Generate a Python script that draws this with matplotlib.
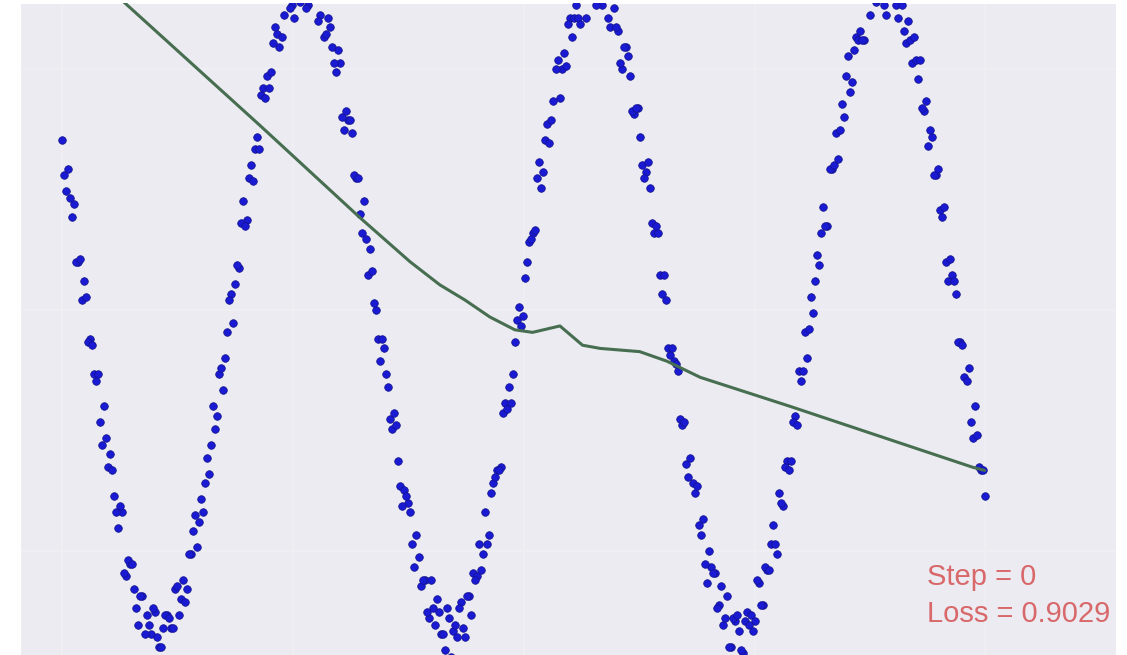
import matplotlib
matplotlib.use("Agg")
import matplotlib.pyplot as plt
import seaborn as sns

# noisy samples, x read in phase-degrees, y in signal units (two interleaved runs)
x_a = [150, 155, 160, 165, 170, 175, 180, 185, 190, 195, 200, 205, 210, 215, 220, 225, 230, 235, 240, 245,
       250, 255, 260, 265, 270, 275, 280, 285, 290, 295, 300, 305, 310, 315, 320, 325, 330, 335, 340, 345,
       350, 355, 360, 365, 370, 375, 380, 385, 390, 395, 400, 405, 410, 415, 420, 425, 430, 435, 440, 445,
       450, 455, 460, 465, 470, 475, 480, 485, 490, 495, 500, 505, 510, 515, 520, 525, 530, 535, 540, 545,
       550, 555, 560, 565, 570, 575, 580, 585, 590, 595, 600, 605, 610, 615, 620, 625, 630, 635, 640, 645,
       650, 655, 660, 665, 670, 675, 680, 685, 690, 695, 700, 705, 710, 715, 720, 725, 730, 735, 740, 745,
       750, 755, 760, 765, 770, 775, 780, 785, 790, 795, 800, 805, 810, 815, 820, 825, 830, 835, 840, 845,
       850, 855, 860, 865, 870, 875, 880, 885, 890, 895, 900, 905, 910, 915, 920, 925, 930, 935, 940, 945,
       950, 955, 960, 965, 970, 975, 980, 985, 990, 995, 1000, 1005, 1010, 1015, 1020, 1025, 1030, 1035, 1040, 1045,
       1050, 1055, 1060, 1065, 1070, 1075, 1080, 1085, 1090, 1095, 1100, 1105, 1110, 1115, 1120, 1125, 1130, 1135, 1140, 1145,
       1150, 1155, 1160, 1165, 1170, 1175, 1180, 1185, 1190, 1195, 1200, 1205, 1210, 1215, 1220, 1225, 1230, 1235, 1240, 1245,
       1250, 1255, 1260, 1265, 1270, 1275, 1280, 1285, 1290, 1295]
y_a = [0.53, 0.37, 0.35, 0.33, 0.15, 0.03, 0.04, -0.09, -0.20, -0.20, -0.42, -0.40, -0.45, -0.58, -0.68, -0.63, -0.83, -0.79, -0.87, -0.98,
       -0.89, -0.95, -1.01, -0.94, -1.05, -0.99, -0.95, -0.99, -0.87, -0.95, -0.84, -0.87, -0.76, -0.64, -0.66, -0.63, -0.46, -0.42, -0.37, -0.20,
       -0.25, -0.07, 0.05, 0.08, 0.13, 0.34, 0.28, 0.45, 0.50, 0.50, 0.69, 0.73, 0.74, 0.88, 0.82, 0.92, 0.98, 0.95, 1.06, 0.96,
       1.03, 0.95, 0.99, 1.04, 0.92, 0.85, 0.91, 0.82, 0.74, 0.77, 0.56, 0.59, 0.55, 0.41, 0.30, 0.34, 0.11, 0.12, 0.00, -0.16,
       -0.12, -0.24, -0.37, -0.36, -0.55, -0.56, -0.60, -0.73, -0.70, -0.86, -0.84, -0.96, -0.93, -0.90, -1.01, -1.06, -0.96, -1.00, -1.02, -0.91,
       -1.02, -0.89, -0.82, -0.83, -0.81, -0.63, -0.70, -0.54, -0.50, -0.49, -0.29, -0.24, -0.20, -0.03, -0.05, 0.10, 0.21, 0.24, 0.41, 0.38,
       0.53, 0.52, 0.65, 0.78, 0.75, 0.76, 0.91, 0.91, 0.91, 1.03, 0.91, 1.02, 1.05, 0.99, 0.95, 1.05, 0.88, 0.94, 0.87, 0.75,
       0.82, 0.73, 0.61, 0.63, 0.45, 0.43, 0.38, 0.24, 0.24, 0.05, 0.03, -0.14, -0.16, -0.19, -0.36, -0.48, -0.46, -0.57, -0.67, -0.65,
       -0.85, -0.80, -0.82, -0.92, -0.98, -0.89, -1.05, -0.97, -1.00, -1.07, -0.94, -0.95, -0.97, -0.85, -0.92, -0.81, -0.73, -0.73, -0.57, -0.61,
       -0.47, -0.47, -0.33, -0.19, -0.19, -0.15, 0.04, 0.09, 0.14, 0.32, 0.26, 0.44, 0.55, 0.56, 0.60, 0.79, 0.71, 0.85, 0.87, 0.84,
       0.99, 0.99, 0.96, 1.06, 0.95, 1.01, 1.03, 0.95, 1.01, 0.87, 0.90, 0.77, 0.78, 0.78, 0.62, 0.51, 0.54, 0.42, 0.31, 0.32,
       0.09, 0.11, 0.05, -0.10, -0.21, -0.18, -0.40, -0.39, -0.50, -0.58]

x_b = [152.5, 157.5, 162.5, 167.5, 172.5, 177.5, 182.5, 187.5, 192.5, 197.5, 202.5, 207.5, 212.5, 217.5, 222.5, 227.5, 232.5, 237.5, 242.5, 247.5,
       252.5, 257.5, 262.5, 267.5, 272.5, 277.5, 282.5, 287.5, 292.5, 297.5, 302.5, 307.5, 312.5, 317.5, 322.5, 327.5, 332.5, 337.5, 342.5, 347.5,
       352.5, 357.5, 362.5, 367.5, 372.5, 377.5, 382.5, 387.5, 392.5, 397.5, 402.5, 407.5, 412.5, 417.5, 422.5, 427.5, 432.5, 437.5, 442.5, 447.5,
       452.5, 457.5, 462.5, 467.5, 472.5, 477.5, 482.5, 487.5, 492.5, 497.5, 502.5, 507.5, 512.5, 517.5, 522.5, 527.5, 532.5, 537.5, 542.5, 547.5,
       552.5, 557.5, 562.5, 567.5, 572.5, 577.5, 582.5, 587.5, 592.5, 597.5, 602.5, 607.5, 612.5, 617.5, 622.5, 627.5, 632.5, 637.5, 642.5, 647.5,
       652.5, 657.5, 662.5, 667.5, 672.5, 677.5, 682.5, 687.5, 692.5, 697.5, 702.5, 707.5, 712.5, 717.5, 722.5, 727.5, 732.5, 737.5, 742.5, 747.5,
       752.5, 757.5, 762.5, 767.5, 772.5, 777.5, 782.5, 787.5, 792.5, 797.5, 802.5, 807.5, 812.5, 817.5, 822.5, 827.5, 832.5, 837.5, 842.5, 847.5,
       852.5, 857.5, 862.5, 867.5, 872.5, 877.5, 882.5, 887.5, 892.5, 897.5, 902.5, 907.5, 912.5, 917.5, 922.5, 927.5, 932.5, 937.5, 942.5, 947.5,
       952.5, 957.5, 962.5, 967.5, 972.5, 977.5, 982.5, 987.5, 992.5, 997.5, 1002.5, 1007.5, 1012.5, 1017.5, 1022.5, 1027.5, 1032.5, 1037.5, 1042.5, 1047.5,
       1052.5, 1057.5, 1062.5, 1067.5, 1072.5, 1077.5, 1082.5, 1087.5, 1092.5, 1097.5, 1102.5, 1107.5, 1112.5, 1117.5, 1122.5, 1127.5, 1132.5, 1137.5, 1142.5, 1147.5,
       1152.5, 1157.5, 1162.5, 1167.5, 1172.5, 1177.5, 1182.5, 1187.5, 1192.5, 1197.5, 1202.5, 1207.5, 1212.5, 1217.5, 1222.5, 1227.5, 1232.5, 1237.5, 1242.5, 1247.5,
       1252.5, 1257.5, 1262.5, 1267.5, 1272.5, 1277.5, 1282.5, 1287.5, 1292.5]
y_b = [0.42, 0.44, 0.29, 0.15, 0.16, 0.09, -0.10, -0.11, -0.22, -0.35, -0.30, -0.49, -0.50, -0.63, -0.61, -0.82, -0.78, -0.79, -0.93, -0.89,
       -1.01, -0.98, -0.93, -1.02, -1.05, -0.95, -0.96, -0.99, -0.86, -0.90, -0.91, -0.76, -0.69, -0.74, -0.59, -0.54, -0.51, -0.30, -0.33, -0.18,
       -0.15, 0.03, -0.04, 0.14, 0.27, 0.26, 0.41, 0.40, 0.54, 0.67, 0.66, 0.69, 0.83, 0.86, 0.85, 0.98, 0.94, 0.91, 1.02, 1.05,
       0.94, 1.01, 0.98, 0.90, 1.00, 0.86, 0.88, 0.77, 0.81, 0.60, 0.62, 0.59, 0.42, 0.41, 0.24, 0.22, 0.19, 0.02, -0.09, -0.09,
       -0.20, -0.34, -0.32, -0.47, -0.61, -0.58, -0.63, -0.80, -0.77, -0.84, -0.94, -0.84, -0.98, -0.94, -1.01, -0.93, -1.08, -0.98, -0.93, -0.99,
       -0.89, -0.95, -0.84, -0.73, -0.76, -0.73, -0.57, -0.52, -0.50, -0.32, -0.31, -0.29, -0.10, 0.01, -0.02, 0.15, 0.22, 0.25, 0.46, 0.43,
       0.58, 0.59, 0.75, 0.66, 0.80, 0.89, 0.85, 0.95, 0.89, 0.98, 1.05, 0.98, 0.95, 1.03, 1.00, 0.91, 0.98, 0.88, 0.77, 0.82,
       0.79, 0.62, 0.63, 0.54, 0.41, 0.46, 0.27, 0.26, 0.11, 0.11, -0.12, -0.12, -0.17, -0.34, -0.35, -0.52, -0.54, -0.55, -0.70, -0.79,
       -0.75, -0.82, -0.93, -0.86, -0.96, -1.05, -0.96, -0.95, -1.06, -0.97, -0.98, -1.00, -0.84, -0.92, -0.80, -0.81, -0.67, -0.76, -0.60, -0.49,
       -0.50, -0.35, -0.36, -0.22, -0.07, -0.06, -0.01, 0.17, 0.24, 0.26, 0.44, 0.45, 0.47, 0.64, 0.73, 0.68, 0.81, 0.84, 0.84, 1.00,
       0.92, 1.02, 0.97, 1.07, 0.92, 1.00, 1.03, 0.91, 0.95, 0.83, 0.84, 0.85, 0.72, 0.63, 0.65, 0.56, 0.42, 0.44, 0.29, 0.15,
       0.16, 0.09, -0.10, -0.11, -0.22, -0.35, -0.30, -0.49, -0.50]

# model prediction at step 0
x_fit = [150, 396, 520, 582, 619, 650, 681, 712, 734, 768, 796, 818, 867, 901, 942, 1053, 1280, 1295]
y_fit = [1.134, 0.574, 0.287, 0.15, 0.078, 0.031, -0.022, -0.062, -0.07, -0.05, -0.11, -0.12, -0.13, -0.16, -0.21, -0.30, -0.49, -0.50]

step = 0
loss = 0.9029

sns.set_style("darkgrid")
plt.rcParams['font.family'] = ['Liberation Sans', 'DejaVu Sans']

fig = plt.figure(figsize=(11.27, 6.55), dpi=100)
ax = fig.add_axes([20 / 1127, 0, 1096 / 1127, 652 / 655])
ax.set_facecolor('#ebebf1')

ax.scatter(x_a + x_b, y_a + y_b, s=30, c='#1a1ad2', edgecolors='#12128a', linewidths=0.5, zorder=3)
ax.plot(x_fit, y_fit, color='#476e50', lw=2.2, zorder=4)

ax.text(1224, -0.857, 'Step = %d' % step, color='#d8686a', fontsize=21, va='baseline')
ax.text(1224, -0.972, 'Loss = %.4f' % loss, color='#d8686a', fontsize=21, va='baseline')

ax.set_xlim(98, 1458)
ax.set_ylim(-1.075, 0.956)
ax.set_xticks([150, 436.5, 723, 1009.5, 1296])
ax.set_yticks([-0.75, 0, 0.75])
ax.tick_params(length=0, labelbottom=False, labelleft=False)
ax.grid(color='#f0f0f4', lw=1.2)

fig.savefig('out.png', dpi=100)
